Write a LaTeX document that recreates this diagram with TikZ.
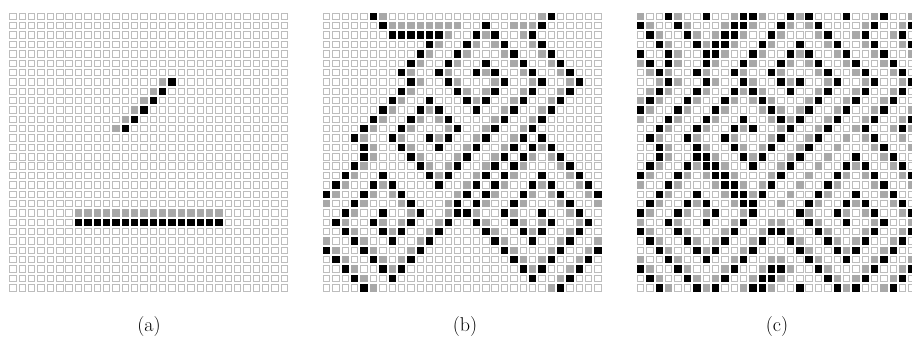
\documentclass[tikz,border=0pt]{standalone}
% Greenberg--Hastings excitable medium on a 30x30 torus:
% 0 = resting (white), 1 = excited (black), 2 = refractory (grey).
\newcount\cx \newcount\cy \newcount\tstep
\def\forcells#1{\def\cellbody{#1}\cy=0 \rowloop}
\def\rowloop{\ifnum\cy<30 \cx=0 \colloop \advance\cy by 1 \expandafter\rowloop\fi}
\def\colloop{\ifnum\cx<30 \cellbody \advance\cx by 1 \expandafter\colloop\fi}
\def\st#1#2{\csname s#1-#2\endcsname}
\def\gsetc#1#2#3{\expandafter\gdef\csname s#1-#2\endcsname{#3}}
% one update of a cell, von Neumann neighbourhood, periodic borders
\def\cellupdate{%
  \edef\xl{\the\numexpr\ifnum\cx=0 30\else\cx\fi-1\relax}%
  \edef\xr{\the\numexpr\ifnum\cx=29 -1\else\cx\fi+1\relax}%
  \edef\yu{\the\numexpr\ifnum\cy=0 30\else\cy\fi-1\relax}%
  \edef\yd{\the\numexpr\ifnum\cy=29 -1\else\cy\fi+1\relax}%
  \ifcase\st{\the\cx}{\the\cy}\relax
    \def\res{0}%
    \ifnum\st{\xl}{\the\cy}=1 \def\res{1}\fi
    \ifnum\st{\xr}{\the\cy}=1 \def\res{1}\fi
    \ifnum\st{\the\cx}{\yu}=1 \def\res{1}\fi
    \ifnum\st{\the\cx}{\yd}=1 \def\res{1}\fi
  \or\def\res{2}%
  \or\def\res{0}%
  \fi
  \expandafter\global\expandafter\let\csname n\the\cx-\the\cy\endcsname\res}
\def\copycell{\expandafter\global\expandafter\let\csname s\the\cx-\the\cy\expandafter\endcsname\csname n\the\cx-\the\cy\endcsname}
\def\savecell{\expandafter\global\expandafter\let\csname\pfx\the\cx-\the\cy\expandafter\endcsname\csname s\the\cx-\the\cy\endcsname}
\def\savestate#1{\def\pfx{#1}\forcells{\savecell}}
\def\pitch{9.36}
\def\gridtop{12.7}
\definecolor{cellline}{gray}{0.74}
\definecolor{cellgray}{gray}{0.66}
\tikzset{
  restcell/.style={draw=cellline,line width=1},
  firecell/.style={fill=black},
  refrcell/.style={fill=cellgray},
  caption/.style={font=\fontsize{20}{24}\selectfont},
}
\def\drawcellp{%
  \ifcase\csname\pfx\the\cx-\the\cy\endcsname\relax
    \path[restcell] (\ox+\the\cx*\pitch+0.5,\gridtop+\the\cy*\pitch+0.5) rectangle ++(6.4,6.4);
  \or\path[firecell] (\ox+\the\cx*\pitch,\gridtop+\the\cy*\pitch) rectangle ++(7.4,7.4);
  \or\path[refrcell] (\ox+\the\cx*\pitch,\gridtop+\the\cy*\pitch) rectangle ++(7.4,7.4);
  \fi}
\def\drawpanel#1#2{\def\pfx{#1}\def\ox{#2}\forcells{\drawcellp}}
\begin{document}
\begin{tikzpicture}[x=1pt,y=-1pt]
\useasboundingbox (0,0) rectangle (912,351);
% initial state: a horizontal and a diagonal excited segment, each with a refractory back
\forcells{\gsetc{\the\cx}{\the\cy}{0}}
\foreach \c in {7,...,22}{\gsetc{\c}{22}{1}\gsetc{\c}{21}{2}}
\foreach \c/\r in {17/7,16/8,15/9,14/10,13/11,12/12}{\gsetc{\c}{\r}{1}}
\foreach \c/\r in {16/7,15/8,14/9,13/10,12/11,11/12}{\gsetc{\c}{\r}{2}}
\savestate{a}
\tstep=0
\loop
 \advance\tstep by 1
 \forcells{\cellupdate}\forcells{\copycell}
 \ifnum\tstep=10 \savestate{b}\fi
 \ifnum\tstep=16 \savestate{c}\fi
\ifnum\tstep<16 \repeat
\drawpanel{a}{9.3}
\drawpanel{b}{323}
\drawpanel{c}{637}
\node[caption] (la) at (149,327) {(a)};
\node[caption] (lb) at (465,327) {(b)};
\node[caption] (lc) at (777,327) {(c)};
\end{tikzpicture}
\end{document}
